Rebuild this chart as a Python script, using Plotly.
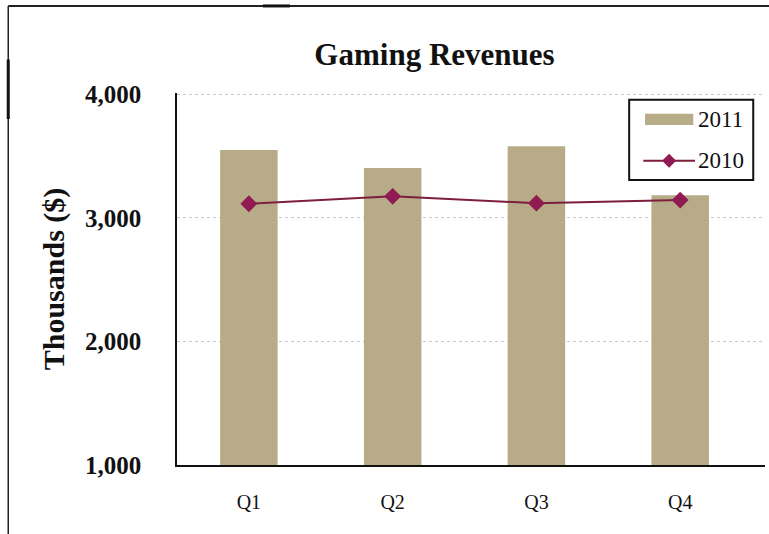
import plotly.graph_objects as go

quarters = ["Q1", "Q2", "Q3", "Q4"]
rev_2011 = [3550, 3405, 3580, 3185]
rev_2010 = [3115, 3175, 3120, 3145]
y_ticks = [1000, 2000, 3000, 4000]
y_tick_text = ["1,000", "2,000", "3,000", "4,000"]

serif = "Liberation Serif, Times New Roman, serif"
bar_color = "#b7ac87"
line_color = "#7d1f3c"
marker_color = "#921a52"

fig = go.Figure()
fig.add_trace(go.Bar(
    x=quarters, y=rev_2011, name="2011",
    marker=dict(color=bar_color, line=dict(width=0)),
    width=0.4,
))
fig.add_trace(go.Scatter(
    x=quarters, y=rev_2010, name="2010", mode="lines+markers",
    line=dict(color=line_color, width=2),
    marker=dict(symbol="diamond", size=13, color=marker_color),
))

fig.update_layout(
    width=769, height=534,
    margin=dict(l=177, r=4, t=93, b=69),
    paper_bgcolor="white", plot_bgcolor="white",
    font=dict(family=serif, color="#111"),
    title=dict(text="<b>Gaming Revenues</b>", x=0.565, xanchor="center",
               y=0.898, yanchor="middle", font=dict(size=31, family=serif)),
    showlegend=False,
)
fig.update_xaxes(
    range=[-0.5, 3.59], showline=True, linecolor="#111", linewidth=2,
    ticks="", tickfont=dict(size=20, family=serif), showgrid=False,
    ticklabelstandoff=18,
)
fig.update_yaxes(
    range=[1000, 4012], tickvals=y_ticks, ticktext=y_tick_text,
    showline=True, linecolor="#111", linewidth=1.5,
    tickfont=dict(size=25, family=serif, weight="bold"),
    ticklabelstandoff=29,
    showgrid=True, gridcolor="#c8c8c8", griddash="dot", gridwidth=1,
    title=dict(text="<b>Thousands ($)</b>", font=dict(size=30, family=serif),
               standoff=12),
)

# legend box
fig.add_shape(type="rect", xref="paper", yref="paper",
              x0=0.769, x1=0.980, y0=0.766, y1=0.982,
              line=dict(color="#111", width=2), fillcolor="white")
# 2011 swatch
fig.add_shape(type="rect", xref="paper", yref="paper",
              x0=0.796, x1=0.878, y0=0.914, y1=0.944,
              line=dict(width=0), fillcolor=bar_color)
# 2010 swatch: line with a diamond
fig.add_shape(type="line", xref="paper", yref="paper",
              x0=0.793, x1=0.881, y0=0.818, y1=0.818,
              line=dict(color=line_color, width=2))
fig.add_shape(type="path", xref="paper", yref="paper",
              xsizemode="pixel", ysizemode="pixel",
              xanchor=0.837, yanchor=0.818,
              path="M0,-7 L7,0 L0,7 L-7,0 Z",
              fillcolor=marker_color, line=dict(width=0))
for label, ypos in (("2011", 0.929), ("2010", 0.818)):
    fig.add_annotation(xref="paper", yref="paper", x=0.883, y=ypos,
                       xanchor="left", yanchor="middle", showarrow=False,
                       text=label, font=dict(size=23, family=serif, color="#111"))

# outer frame
fig.add_shape(type="line", xref="paper", yref="paper", x0=-0.287, x1=1.01,
              y0=1.234, y1=1.234, line=dict(color="#222", width=2))
fig.add_shape(type="line", xref="paper", yref="paper", x0=-0.287, x1=-0.287,
              y0=1.234, y1=-0.2, line=dict(color="#222", width=1.5))
fig.add_shape(type="line", xref="paper", yref="paper", x0=-0.287, x1=-0.287,
              y0=1.09, y1=0.93, line=dict(color="#111", width=3))
fig.add_shape(type="line", xref="paper", yref="paper", x0=0.146, x1=0.192,
              y0=1.234, y1=1.234, line=dict(color="#111", width=3))

fig.write_html("out.html")
